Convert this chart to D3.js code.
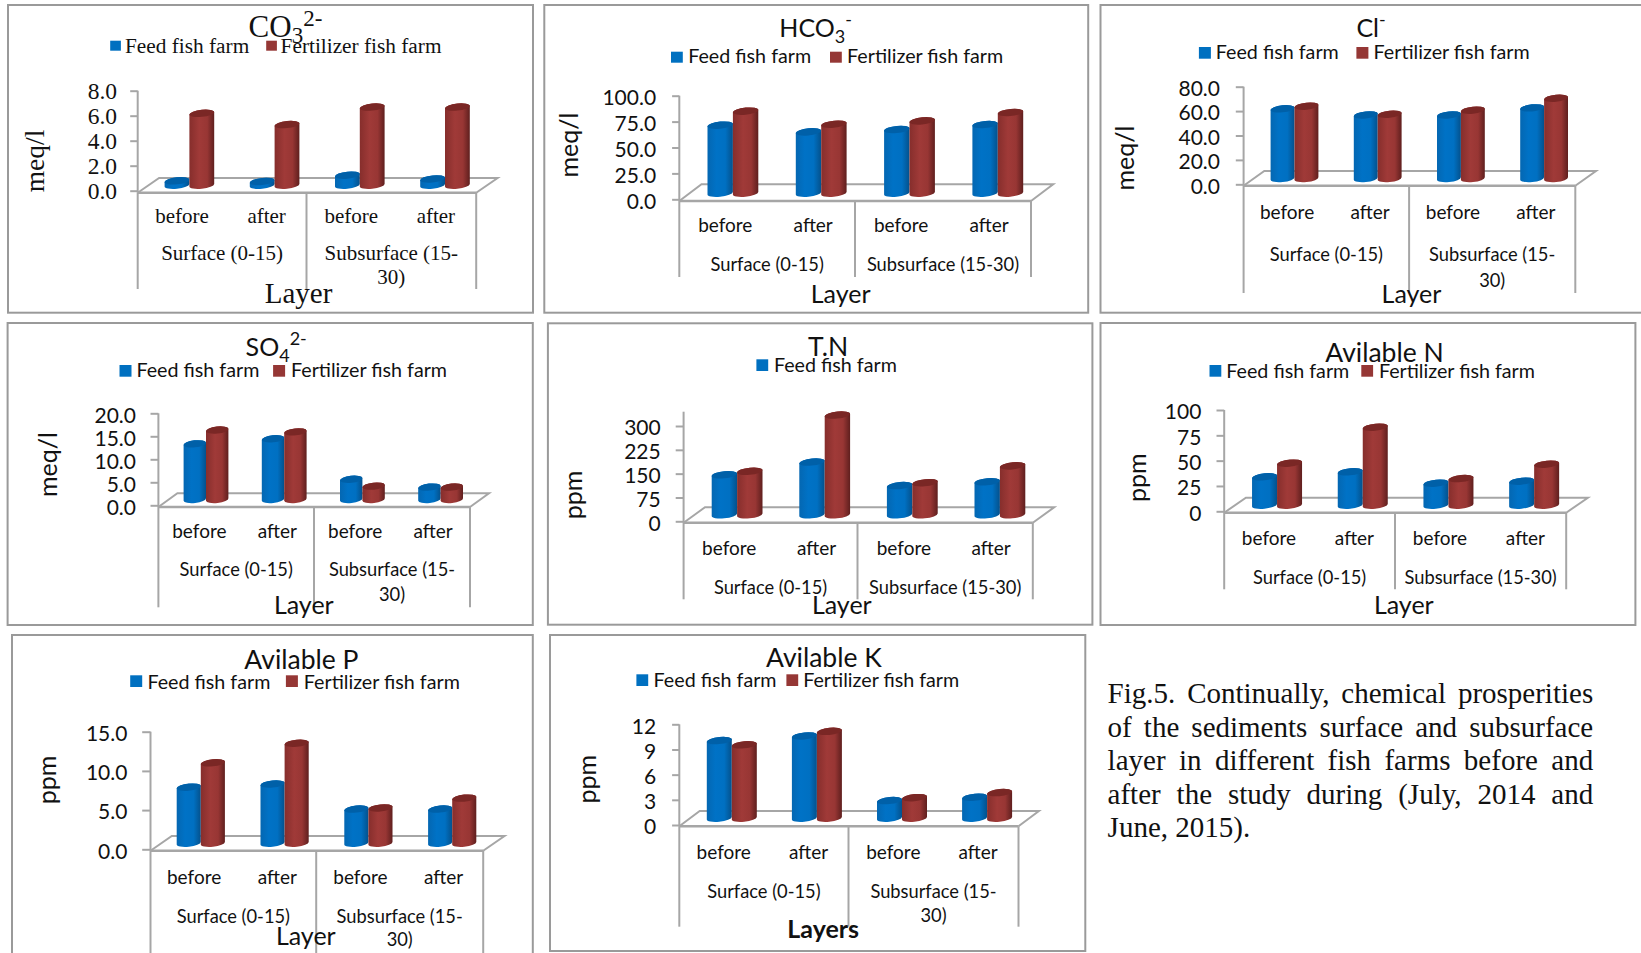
<!DOCTYPE html>
<html>
<head>
<meta charset="utf-8">
<title>Chemical properties of sediments</title>
<script src="https://cdn.jsdelivr.net/npm/d3@7"></script>
<style>
  html, body { margin: 0; padding: 0; background: #fff; overflow: hidden; }
  svg { display: block; }
  text { fill: #111; }
</style>
</head>
<body>
<svg id="fig" width="1641" height="953"></svg>
<script>
// Shared categories and series names
const categories = ["before", "after", "before", "after"];
const layers = ["Surface (0-15)", "Subsurface (15-30)"];
const seriesNames = ["Feed fish farm", "Fertilizer fish farm"];

// Sediment measurements: one array per parameter and farm type
const co3Feed = [0.35, 0.3, 0.8, 0.5];
const co3Fert = [5.75, 4.85, 6.25, 6.25];
const co3Ticks = [0, 2, 4, 6, 8];

const hco3Feed = [65.7, 59.2, 61.5, 66.3];
const hco3Fert = [79.2, 66.6, 69.8, 77.9];
const hco3Ticks = [0, 25, 50, 75, 100];

const clFeed = [57.1, 52.1, 52.1, 57.9];
const clFert = [59.3, 52.7, 56, 65.8];
const clTicks = [0, 20, 40, 60, 80];

const so4Feed = [12.1, 13.2, 4.4, 2.7];
const so4Fert = [15.1, 14.7, 2.9, 2.7];
const so4Ticks = [0, 5, 10, 15, 20];

const tnFeed = [126, 166, 92, 104];
const tnFert = [137, 314, 101, 154];
const tnTicks = [0, 75, 150, 225, 300];

const availNFeed = [28, 33, 21.7, 23.7];
const availNFert = [41.5, 77, 26.3, 40.5];
const availNTicks = [0, 25, 50, 75, 100];

const availPFeed = [7.15, 7.55, 4.35, 4.35];
const availPFert = [10.25, 12.75, 4.5, 5.75];
const availPTicks = [0, 5, 10, 15];

const availKFeed = [9.25, 9.8, 2.1, 2.5];
const availKFert = [8.75, 10.35, 2.45, 3.05];
const availKTicks = [0, 3, 6, 9, 12];

const captionLines = [
  "Fig.5. Continually, chemical prosperities",
  "of the sediments surface and subsurface",
  "layer in different fish farms before and",
  "after the study during (July, 2014 and",
  "June, 2015)."
];

const GRID = "#a6a6a6";
const BOX = "#9a9a9a";
const SANS = "Lato, 'Open Sans', sans-serif";
const SERIF = "'Liberation Serif', serif";

// Panel frames and plot geometry
const panels = [
  { title: [["CO"], ["3", "sub"], ["2-", "sup"]], titleX: 248.6, titleY: 37, titleSize: 31, titleSmall: 23,
    feed: co3Feed, fert: co3Fert, ticks: co3Ticks, fmt: ".1f", unit: "meq/l", font: SERIF,
    box: [8, 5, 533, 312.7], axisX: 137.7, right: 476.2, backX: 497.6, mid: 306.5, y0: 190.7, yTop: 90.7,
    floorY: 192.7, backY: 178, bottom: 289, tickLen: 7.5, labelRight: 117,
    bandL: 146.8, step: 85.2, barW: 24.8, lift: 5.5,
    catY: 222.7, groupY: 260, wrapY: 284,
    legendY: 52.7, swTop: 40.7, sw: [110.2, 266.2], txt: [125, 280.6], swW: 10.7, swH: 10,
    layerX: 298.6, layerY: 302.7, unitX: 44.3, unitY: 161,
    sizes: { tick: 23.5, cat: 21, group: 21, legend: 21.3, layer: 29, unit: 27.5 } },
  { title: [["HCO"], ["3", "sub"], ["-", "sup"]], titleX: 779.3, titleY: 36.5, titleSize: 25, titleSmall: 18,
    feed: hco3Feed, fert: hco3Fert, ticks: hco3Ticks, fmt: ".1f", unit: "meq/l", font: SANS,
    box: [544.3, 5, 1088.2, 312.7], axisX: 679.3, right: 1031, backX: 1053.2, mid: 855, y0: 199.3, yTop: 95.7,
    floorY: 201, backY: 184.3, bottom: 277, tickLen: 7.2, labelRight: 656.1,
    bandL: 688.75, step: 88.3, barW: 25.4, lift: 6.1,
    catY: 232, groupY: 271, wrapY: null,
    legendY: 62.7, swTop: 51.7, sw: [671, 830], txt: [688.2, 847.1], swW: 11.8, swH: 11,
    layerX: 840.7, layerY: 302.7, unitX: 577.7, unitY: 145 },
  { title: [["Cl"], ["-", "sup"]], titleX: 1356.4, titleY: 37, titleSize: 25, titleSmall: 18,
    feed: clFeed, fert: clFert, ticks: clTicks, fmt: ".1f", unit: "meq/l", font: SANS,
    box: [1100.5, 5, 1665, 312.7], axisX: 1243.6, right: 1575.3, backX: 1596, mid: 1409.1, y0: 184.3, yTop: 86.7,
    floorY: 185.7, backY: 171, bottom: 293, tickLen: 7.8, labelRight: 1220,
    bandL: 1252.9, step: 83.2, barW: 23.9, lift: 5.8,
    catY: 219.3, groupY: 261.3, wrapY: 287,
    legendY: 59.3, swTop: 47, sw: [1198.9, 1356.4], txt: [1215.8, 1373.6], swW: 12, swH: 11.7,
    layerX: 1411.5, layerY: 302.7, unitX: 1133.5, unitY: 158 },
  { title: [["SO"], ["4", "sub"], ["2-", "sup"]], titleX: 245.6, titleY: 355.5, titleSize: 25, titleSmall: 18,
    feed: so4Feed, fert: so4Fert, ticks: so4Ticks, fmt: ".1f", unit: "meq/l", font: SANS,
    box: [7.6, 323, 532.8, 625], axisX: 158.4, right: 470, backX: 489, mid: 314, y0: 505.3, yTop: 413.3,
    floorY: 507, backY: 493.3, bottom: 607.3, tickLen: 7.9, labelRight: 136,
    bandL: 166.9, step: 78.2, barW: 22.4, lift: 5.8,
    catY: 538, groupY: 576.3, wrapY: 601.3,
    legendY: 376.7, swTop: 365, sw: [119.5, 273.1], txt: [136.4, 291], swW: 12, swH: 11.7,
    layerX: 303.8, layerY: 614.3, unitX: 57.1, unitY: 464.5 },
  { title: [["T.N"]], titleX: 828.2, titleAnchor: "middle", titleY: 355.8, titleSize: 26.5, titleSmall: 18,
    feed: tnFeed, fert: tnFert, ticks: tnTicks, fmt: "d", unit: "ppm", font: SANS,
    box: [547.9, 323.3, 1092.4, 624.7], axisX: 683.6, right: 1032.8, backX: 1054.2, mid: 857.5, y0: 521.3, yTop: 426, axisTop: 411.7,
    floorY: 522.7, backY: 507.3, bottom: 599.3, tickLen: 7.9, labelRight: 660.7,
    bandL: 693.3, step: 87.6, barW: 25.4, lift: 6.5,
    catY: 554.6, groupY: 593.6, wrapY: null,
    legendY: 372, swTop: 359.3, sw: [756.4], txt: [773.9], swW: 11.8, swH: 11.7, legendCount: 1,
    layerX: 841.8, layerY: 614.3, unitX: 582.1, unitY: 495 },
  { title: [["Avilable N"]], titleX: 1384.5, titleAnchor: "middle", titleY: 361.5, titleSize: 26.5, titleSmall: 18,
    feed: availNFeed, fert: availNFert, ticks: availNTicks, fmt: "d", unit: "ppm", font: SANS,
    box: [1100.5, 323, 1635.4, 625], axisX: 1224.2, right: 1566.2, backX: 1587.9, mid: 1395, y0: 511.3, yTop: 410,
    floorY: 512.7, backY: 497.7, bottom: 589.3, tickLen: 7.7, labelRight: 1201.4,
    bandL: 1234.2, step: 85.7, barW: 25, lift: 6.1,
    catY: 544.6, groupY: 583.6, wrapY: null,
    legendY: 377.7, swTop: 365, sw: [1209.5, 1361.3], txt: [1226.3, 1378.9], swW: 11.8, swH: 11.7,
    layerX: 1403.8, layerY: 614.3, unitX: 1145.5, unitY: 477.7 },
  { title: [["Avilable P"]], titleX: 301.4, titleAnchor: "middle", titleY: 669, titleSize: 26.5, titleSmall: 18,
    feed: availPFeed, fert: availPFert, ticks: availPTicks, fmt: ".1f", unit: "ppm", font: SANS,
    box: [12, 635, 532.8, 975], axisX: 150.5, right: 483.2, backX: 504.5, mid: 316.2, y0: 849.3, yTop: 731.7,
    floorY: 850.7, backY: 836, bottom: 953, tickLen: 8.3, labelRight: 127.4,
    bandL: 158.9, step: 83.8, barW: 24.1, lift: 6.1,
    catY: 883.6, groupY: 922.6, wrapY: 946.3,
    legendY: 688.8, swTop: 675.3, sw: [130.2, 285.9], txt: [147.4, 303.8], swW: 12, swH: 11.7,
    layerX: 305.8, layerY: 945, unitX: 56.1, unitY: 780 },
  { title: [["Avilable K"]], titleX: 823.9, titleAnchor: "middle", titleY: 667, titleSize: 26.5, titleSmall: 18,
    feed: availKFeed, fert: availKFert, ticks: availKTicks, fmt: "d", unit: "ppm", font: SANS,
    box: [550, 635, 1085.3, 951], axisX: 679.3, right: 1018.5, backX: 1038.9, mid: 848.5, y0: 825, yTop: 724.3,
    floorY: 826.3, backY: 811, bottom: 926.7, tickLen: 7.2, labelRight: 656.1,
    bandL: 689.25, step: 85.1, barW: 25, lift: 6.8,
    catY: 858.6, groupY: 897.6, wrapY: 922,
    legendY: 686.5, swTop: 674.3, sw: [636.4, 786.4], txt: [653.6, 803.2], swW: 11.8, swH: 11.7,
    layerX: 823.2, layerY: 937.7, layerLabel: "Layers", layerBold: true, unitX: 596.4, unitY: 779.3 }
];

const sansSizes = { tick: 21, cat: 19, group: 18.3, legend: 19.7, layer: 25, unit: 25 };

const svg = d3.select("#fig");
const defs = svg.append("defs");

// Horizontal shading that gives the cylinders their rounded look
const shades = {
  feed: { id: "shadeFeed", stops: [["0%", "#0467b2"], ["35%", "#0072c6"], ["70%", "#0070c2"], ["100%", "#04518c"]], cap: "#0060a8", swatch: "#0070c0" },
  fert: { id: "shadeFert", stops: [["0%", "#862e2c"], ["40%", "#a03a38"], ["72%", "#983634"], ["100%", "#5f1f1e"]], cap: "#7a2725", swatch: "#953735" }
};
Object.values(shades).forEach(s => {
  const g = defs.append("linearGradient").attr("id", s.id).attr("x1", 0).attr("x2", 1).attr("y1", 0).attr("y2", 0);
  s.stops.forEach(([o, c]) => g.append("stop").attr("offset", o).attr("stop-color", c));
});

// Outline of a cylinder whose caps tilt slightly upward to the right
const RY = 3.5, TILT = 1.2;
function bodyPath(cx, rx, top, base) {
  return `M${cx - rx},${top + TILT}L${cx - rx},${base + TILT}` +
         `A${rx},${RY} -6 0 0 ${cx + rx},${base - TILT}` +
         `L${cx + rx},${top - TILT}` +
         `A${rx},${RY} -6 0 0 ${cx - rx},${top + TILT}Z`;
}
function capPath(cx, rx, top) {
  return `M${cx - rx},${top + TILT}A${rx},${RY} -6 1 1 ${cx + rx},${top - TILT}` +
         `A${rx},${RY} -6 1 1 ${cx - rx},${top + TILT}Z`;
}

function wrapLayer(label) {
  const i = label.indexOf("-") + 1;
  return [label.slice(0, i), label.slice(i)];
}

panels.forEach(p => {
  const sizes = p.sizes || sansSizes;
  const g = svg.append("g").style("font-family", p.font);

  g.append("rect")
    .attr("x", p.box[0]).attr("y", p.box[1])
    .attr("width", p.box[2] - p.box[0]).attr("height", p.box[3] - p.box[1])
    .attr("fill", "#fff").attr("stroke", BOX).attr("stroke-width", 2);

  // Title with optional sub- and superscript runs
  const title = g.append("text")
    .attr("x", p.titleX).attr("y", p.titleY)
    .attr("text-anchor", p.titleAnchor || "start")
    .style("font-size", p.titleSize + "px");
  let shift = 0;
  p.title.forEach(([txt, kind]) => {
    const target = kind === "sub" ? 6 : kind === "sup" ? -11 : 0;
    title.append("tspan")
      .attr("dy", target - shift)
      .style("font-size", kind ? p.titleSmall + "px" : null)
      .text(txt);
    shift = target;
  });

  // Legend
  const count = p.legendCount || seriesNames.length;
  [shades.feed, shades.fert].slice(0, count).forEach((s, i) => {
    g.append("rect").attr("x", p.sw[i]).attr("y", p.swTop)
      .attr("width", p.swW).attr("height", p.swH).attr("fill", s.swatch);
    g.append("text").attr("x", p.txt[i]).attr("y", p.legendY)
      .style("font-size", sizes.legend + "px").text(seriesNames[i]);
  });

  const y = d3.scaleLinear().domain(d3.extent(p.ticks)).range([p.y0, p.yTop]);
  const band = d3.scaleBand().domain(d3.range(categories.length))
    .range([p.bandL, p.bandL + p.step * categories.length]);
  const catBand = d3.scaleBand().domain(d3.range(categories.length)).range([p.axisX, p.right]);

  // Floor of the plot box
  g.append("path")
    .attr("d", d3.line()([[p.axisX, p.floorY], [p.backX - (p.right - p.axisX), p.backY], [p.backX, p.backY], [p.right, p.floorY]]))
    .attr("fill", "none").attr("stroke", GRID).attr("stroke-width", 2);
  g.append("line").attr("x1", p.axisX).attr("x2", p.right).attr("y1", p.floorY).attr("y2", p.floorY)
    .attr("stroke", GRID).attr("stroke-width", 2.5);

  // Category dividers under the floor
  [p.axisX, p.mid, p.right].forEach(x => {
    g.append("line").attr("x1", x).attr("x2", x).attr("y1", p.floorY).attr("y2", p.bottom)
      .attr("stroke", GRID).attr("stroke-width", 2);
  });

  // Value axis
  const axis = d3.axisLeft(y).tickValues(p.ticks).tickSize(p.tickLen).tickSizeOuter(0)
    .tickPadding(p.axisX - p.tickLen - p.labelRight).tickFormat(d3.format(p.fmt));
  const ax = g.append("g").attr("transform", `translate(${p.axisX},0)`).call(axis);
  ax.select(".domain").remove();
  ax.selectAll(".tick line").attr("stroke", GRID).attr("stroke-width", 2);
  ax.selectAll(".tick text")
    .attr("dy", p.font === SANS ? "0.42em" : "0.32em")
    .style("font-size", sizes.tick + "px").style("font-family", p.font).attr("fill", "#111");
  g.append("line").attr("x1", p.axisX).attr("x2", p.axisX)
    .attr("y1", p.axisTop || p.yTop).attr("y2", p.floorY)
    .attr("stroke", GRID).attr("stroke-width", 2);

  // Cylinders: feed first so the fertilizer bar sits over its edge
  [["feed", p.feed, -1], ["fert", p.fert, 1]].forEach(([key, values, side]) => {
    const s = shades[key];
    const rx = p.barW / 2;
    const cx = i => band(i) + band.bandwidth() / 2 + side * rx;
    const base = y(0) - p.lift;
    const cols = g.append("g").selectAll("g").data(values).join("g");
    cols.append("path")
      .attr("d", (v, i) => bodyPath(cx(i), rx, y(v) - p.lift, base))
      .attr("fill", `url(#${s.id})`);
    cols.append("path")
      .attr("d", (v, i) => capPath(cx(i), rx, y(v) - p.lift))
      .attr("fill", s.cap);
  });

  // Category and layer labels
  g.selectAll("text.cat").data(categories).join("text")
    .attr("class", "cat")
    .attr("x", (d, i) => catBand(i) + catBand.bandwidth() / 2 + 2)
    .attr("y", p.catY).attr("text-anchor", "middle")
    .style("font-size", sizes.cat + "px").text(d => d);

  const edges = [[p.axisX, p.mid], [p.mid, p.right]];
  layers.forEach((label, i) => {
    const cx = (edges[i][0] + edges[i][1]) / 2;
    const parts = (p.wrapY && i === 1) ? wrapLayer(label) : [label];
    parts.forEach((t, j) => {
      g.append("text").attr("x", cx).attr("y", j === 0 ? p.groupY : p.wrapY)
        .attr("text-anchor", "middle").style("font-size", sizes.group + "px").text(t);
    });
  });

  g.append("text").attr("x", p.layerX).attr("y", p.layerY).attr("text-anchor", "middle")
    .style("font-size", sizes.layer + "px")
    .style("font-weight", p.layerBold ? 700 : 400)
    .text(p.layerLabel || "Layer");

  g.append("text")
    .attr("transform", `translate(${p.unitX},${p.unitY}) rotate(-90)`)
    .attr("text-anchor", "middle").style("font-size", sizes.unit + "px").text(p.unit);
});

// Caption, justified line by line
const captionLeft = 1107.6, captionWidth = 485.6;
const captionBase = d3.scaleLinear().domain([0, 4]).range([703, 837]);
captionLines.forEach((line, i) => {
  const t = svg.append("text").attr("x", captionLeft).attr("y", captionBase(i))
    .style("font-family", SERIF).style("font-size", "29px").text(line);
  if (i < captionLines.length - 1) {
    const gaps = line.split(" ").length - 1;
    const extra = (captionWidth - t.node().getComputedTextLength()) / gaps;
    t.style("word-spacing", extra + "px");
  }
});
</script>
</body>
</html>
